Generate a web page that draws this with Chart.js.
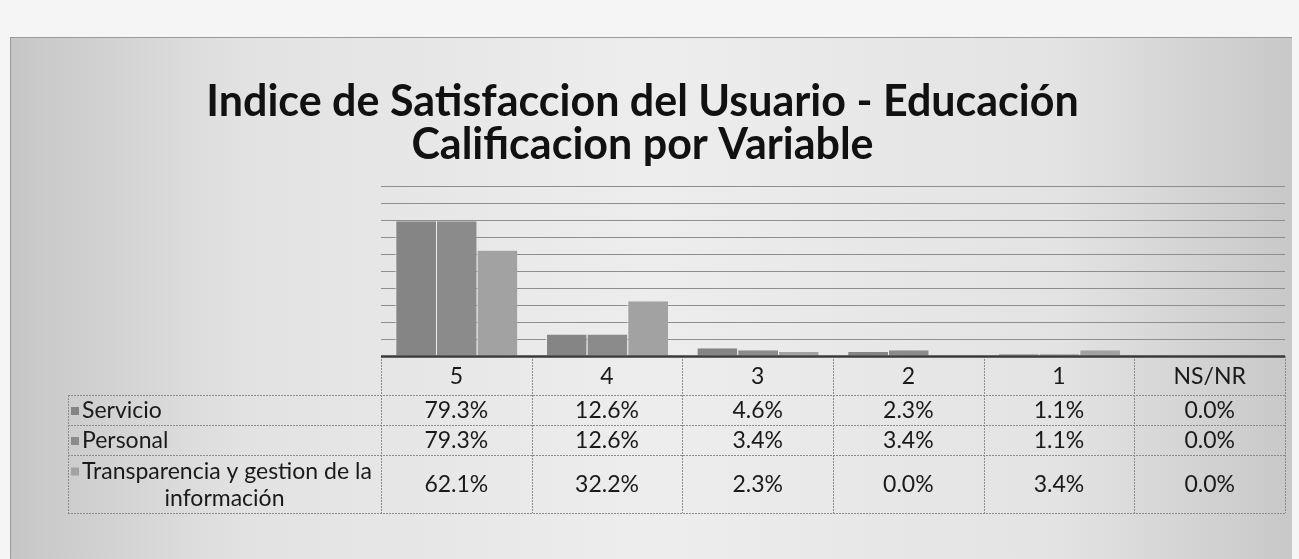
<!DOCTYPE html>
<html>
<head>
<meta charset="utf-8">
<script src="https://cdn.jsdelivr.net/npm/chart.js@4.4.1/dist/chart.umd.min.js"></script>
<style>
  html, body { margin: 0; padding: 0; background: #f4f4f4; }
  #wrap { position: relative; width: 1299px; height: 559px; }
</style>
</head>
<body>
<div id="wrap"><canvas id="c" width="1299" height="559"></canvas></div>
<script>
const categories = ["5", "4", "3", "2", "1", "NS/NR"];
const seriesNames = ["Servicio", "Personal", "Transparencia y gestion de la información"];
const servicio = [79.3, 12.6, 4.6, 2.3, 1.1, 0.0];
const personal = [79.3, 12.6, 3.4, 3.4, 1.1, 0.0];
const transparencia = [62.1, 32.2, 2.3, 0.0, 3.4, 0.0];
const titleLines = ["Indice de Satisfaccion del Usuario - Educación", "Calificacion por Variable"];

const seriesColors = ["#858585", "#8b8b8b", "#a2a2a2"];
const allSeries = [servicio, personal, transparencia];
const FONT = "Lato, 'Liberation Sans', sans-serif";

const background = {
  id: 'background',
  beforeDraw(chart) {
    const ctx = chart.ctx;
    ctx.save();
    ctx.fillStyle = '#f5f5f5';
    ctx.fillRect(0, 0, chart.width, chart.height);
    const g = ctx.createLinearGradient(10, 0, 1292, 0);
    g.addColorStop(0, '#c6c6c6');
    g.addColorStop(0.18, '#e2e2e2');
    g.addColorStop(0.5, '#ededed');
    g.addColorStop(0.82, '#e3e3e3');
    g.addColorStop(1, '#c8c8c8');
    ctx.fillStyle = g;
    ctx.fillRect(10, 37, 1282, chart.height - 37);
    ctx.strokeStyle = '#9a9a9a';
    ctx.lineWidth = 1;
    ctx.beginPath();
    ctx.moveTo(10, 37.5); ctx.lineTo(1292, 37.5);
    ctx.moveTo(10.5, 37); ctx.lineTo(10.5, chart.height);
    ctx.stroke();
    ctx.restore();
  }
};

const dataTable = {
  id: 'dataTable',
  afterDraw(chart) {
    const ctx = chart.ctx;
    const x = chart.scales.x;
    const area = chart.chartArea;
    const colW = x.width / categories.length;
    const left = area.left, right = area.right;
    const legendLeft = 68;
    const rows = [area.bottom, 395, 425, 455, 513];
    ctx.save();
    ctx.strokeStyle = '#8c8c8c';
    ctx.lineWidth = 1;
    ctx.setLineDash([2, 1]);
    ctx.beginPath();
    for (let i = 0; i <= categories.length; i++) {
      const px = Math.round(left + i * colW) + 0.5;
      ctx.moveTo(px, rows[0]); ctx.lineTo(px, rows[4]);
    }
    ctx.moveTo(legendLeft + 0.5, rows[1]); ctx.lineTo(legendLeft + 0.5, rows[4]);
    for (let r = 1; r < rows.length; r++) {
      ctx.moveTo(legendLeft, rows[r] + 0.5); ctx.lineTo(right, rows[r] + 0.5);
    }
    ctx.stroke();
    ctx.setLineDash([]);
    ctx.strokeStyle = '#3a3a3a';
    ctx.lineWidth = 2.5;
    ctx.beginPath();
    ctx.moveTo(left, area.bottom + 0.5); ctx.lineTo(right, area.bottom + 0.5);
    ctx.stroke();
    ctx.fillStyle = '#1a1a1a';
    ctx.font = '23px ' + FONT;
    ctx.textAlign = 'center';
    ctx.textBaseline = 'middle';
    categories.forEach((c, i) => {
      ctx.fillText(c, x.getPixelForValue(i), (rows[0] + rows[1]) / 2 + 1);
    });
    allSeries.forEach((vals, s) => {
      const cy = (rows[s + 1] + rows[s + 2]) / 2 + 1;
      vals.forEach((v, i) => {
        ctx.fillText(v.toFixed(1) + '%', x.getPixelForValue(i), cy);
      });
    });
    const labelLines = [["Servicio"], ["Personal"], ["Transparencia y gestion de la", "información"]];
    labelLines.forEach((lines, s) => {
      const top = rows[s + 1], bot = rows[s + 2];
      const lh = 27;
      const startY = (top + bot) / 2 - (lines.length - 1) * lh / 2 + 1;
      lines.forEach((ln, k) => {
        const cy = startY + k * lh;
        if (k === 0) {
          ctx.fillStyle = seriesColors[s];
          ctx.fillRect(71, cy - 4, 8, 8);
          ctx.fillStyle = '#1a1a1a';
          ctx.textAlign = 'left';
          ctx.fillText(ln, 82, cy);
        } else {
          ctx.textAlign = 'center';
          ctx.fillText(ln, (legendLeft + left) / 2, cy);
        }
      });
    });
    ctx.restore();
  }
};

new Chart(document.getElementById('c'), {
  type: 'bar',
  data: {
    labels: categories,
    datasets: seriesNames.map((n, s) => ({
      label: n,
      data: allSeries[s].map(v => v / 100),
      backgroundColor: seriesColors[s],
      borderColor: '#eeeeee',
      borderWidth: { left: 1, right: 0, top: 0, bottom: 0 },
      barPercentage: 1.0,
      categoryPercentage: 0.81
    }))
  },
  options: {
    responsive: false,
    animation: false,
    layout: { padding: { left: 0, right: 14, top: 0, bottom: 195 } },
    plugins: {
      legend: { display: false },
      tooltip: { enabled: false },
      title: {
        display: true,
        text: titleLines,
        color: '#111111',
        font: { family: FONT, size: 43, weight: 'bold', lineHeight: 1.0 },
        padding: { top: 81, bottom: 19 }
      }
    },
    scales: {
      x: {
        grid: { display: false },
        border: { display: false },
        ticks: { display: false }
      },
      y: {
        min: 0, max: 1,
        afterFit(scale) { scale.width = 381; },
        ticks: { display: false, stepSize: 0.1 },
        border: { display: false },
        grid: { color: '#8e8e8e', lineWidth: 1, drawTicks: false }
      }
    }
  },
  plugins: [background, dataTable]
});
</script>
</body>
</html>
